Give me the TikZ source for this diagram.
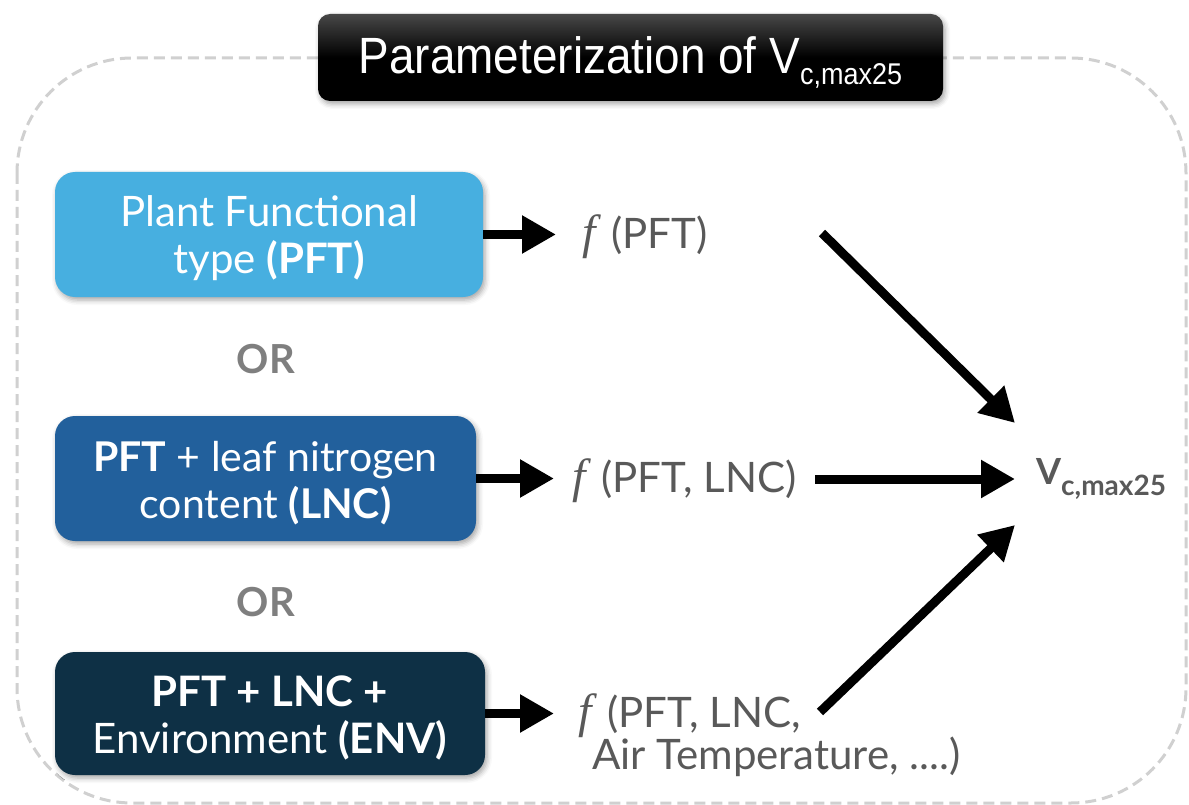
\documentclass[tikz,border=0pt]{standalone}
\usepackage{fontspec}
\setmainfont{Lato}
\newfontfamily\titlefont[FakeStretch=0.9]{Liberation Sans}
\newfontfamily\italfont{Liberation Serif}
\usetikzlibrary{arrows.meta,shadows.blur}

\definecolor{pftblue}{HTML}{47AFE0}
\definecolor{lncblue}{HTML}{22609C}
\definecolor{envnavy}{HTML}{0E3045}
\definecolor{labelgray}{HTML}{595959}
\definecolor{orgray}{HTML}{7F7F7F}
\definecolor{framegray}{HTML}{D0D0D0}

% italic function symbol followed by a wider gap
\newcommand{\fsym}{{\italfont\itshape\fontsize{48}{50}\selectfont f}\hspace{16pt}}
% taller first line so the two lines sit centred in the box
\newcommand{\toppad}{\rule{0pt}{39pt}}

\tikzset{
  frame/.style={draw=framegray, line width=3pt, dash pattern=on 11pt off 6pt,
    rounded corners=115pt},
  softshadow/.style={blur shadow={shadow xshift=2pt, shadow yshift=-3pt,
    shadow blur radius=5pt, shadow opacity=35}},
  titlebox/.style={softshadow, rounded corners=12pt, minimum width=625pt,
    minimum height=87pt, inner sep=0pt, top color=black!72, bottom color=black,
    middle color=black, text=white, text height=36pt, text depth=4pt},
  inbox/.style={softshadow, rounded corners=20pt, minimum height=125pt,
    inner sep=0pt, text=white, align=center, font=\fontsize{42}{47}\selectfont},
  ortext/.style={text=orgray, font=\fontsize{40}{44}\selectfont\bfseries},
  ftext/.style={text=labelgray, font=\fontsize{42}{46}\selectfont, inner sep=0pt,
    anchor=base west},
  vtext/.style={text=labelgray, inner sep=0pt, anchor=base west},
  arr/.style={line width=9pt, -{Triangle[length=34pt,width=36pt]}},
}

\begin{document}
\begin{tikzpicture}[x=1pt,y=-1pt]
  \useasboundingbox (0,0) rectangle (1189,805);

  % dashed outer frame
  \draw[frame] (17,58) rectangle (1186,803);

  % heading
  \node[titlebox] (title) at (630.5,57.5)
    {\titlefont\fontsize{51}{54}\selectfont Parameterization of V\raisebox{-11pt}{\fontsize{30}{32}\selectfont c,max25}};

  % input boxes
  \node[inbox, fill=pftblue, minimum width=428pt] (b1) at (269,234.5)
    {\toppad Plant Functional\\type \textbf{(PFT)}};
  \node[ortext] (or1) at (266,359) {OR};
  \node[inbox, fill=lncblue, minimum width=421pt, font=\fontsize{41}{47}\selectfont] (b2) at (265.5,478.5)
    {\toppad\textbf{PFT} + leaf nitrogen\\content \textbf{(LNC)}};
  \node[ortext] (or2) at (266,602) {OR};
  \node[inbox, fill=envnavy, minimum width=430pt, minimum height=123pt] (b3) at (270,713.5)
    {\toppad\textbf{PFT + LNC +}\\Environment \textbf{(ENV)}};

  % functional forms
  \node[ftext] (f1) at (582,248) {\fsym(PFT)};
  \node[ftext] (f2) at (572,492) {\fsym(PFT, LNC)};
  \node[ftext] (f3) at (578,727) {\fsym(PFT, LNC,};
  \node[ftext] (f3b) at (592,769) {Air Temperature, ....)};

  % result
  \node[vtext] (v) at (1036,484)
    {\fontsize{36}{40}\selectfont\bfseries V\raisebox{-11pt}{\fontsize{28}{30}\selectfont c,max25}};

  % arrows from inputs to functional forms
  \draw[arr] (b1.east) -- ([xshift=-26pt]b1.east -| f1.west);
  \draw[arr] (b2.east) -- ([xshift=-18pt]b2.east -| f2.west);
  \draw[arr] (b3.east) -- ([xshift=-24pt]b3.east -| f3.west);

  % arrows from functional forms to the result
  \coordinate (s1) at (822,233);
  \coordinate (t1) at (1015,423);
  \coordinate (s2) at (815,479);
  \coordinate (t2) at (1015,479);
  \coordinate (s3) at (820,712);
  \coordinate (t3) at (1015,525);
  \draw[arr] (s1) -- (t1);
  \draw[arr] (s2) -- (t2);
  \draw[arr] (s3) -- (t3);
\end{tikzpicture}
\end{document}
